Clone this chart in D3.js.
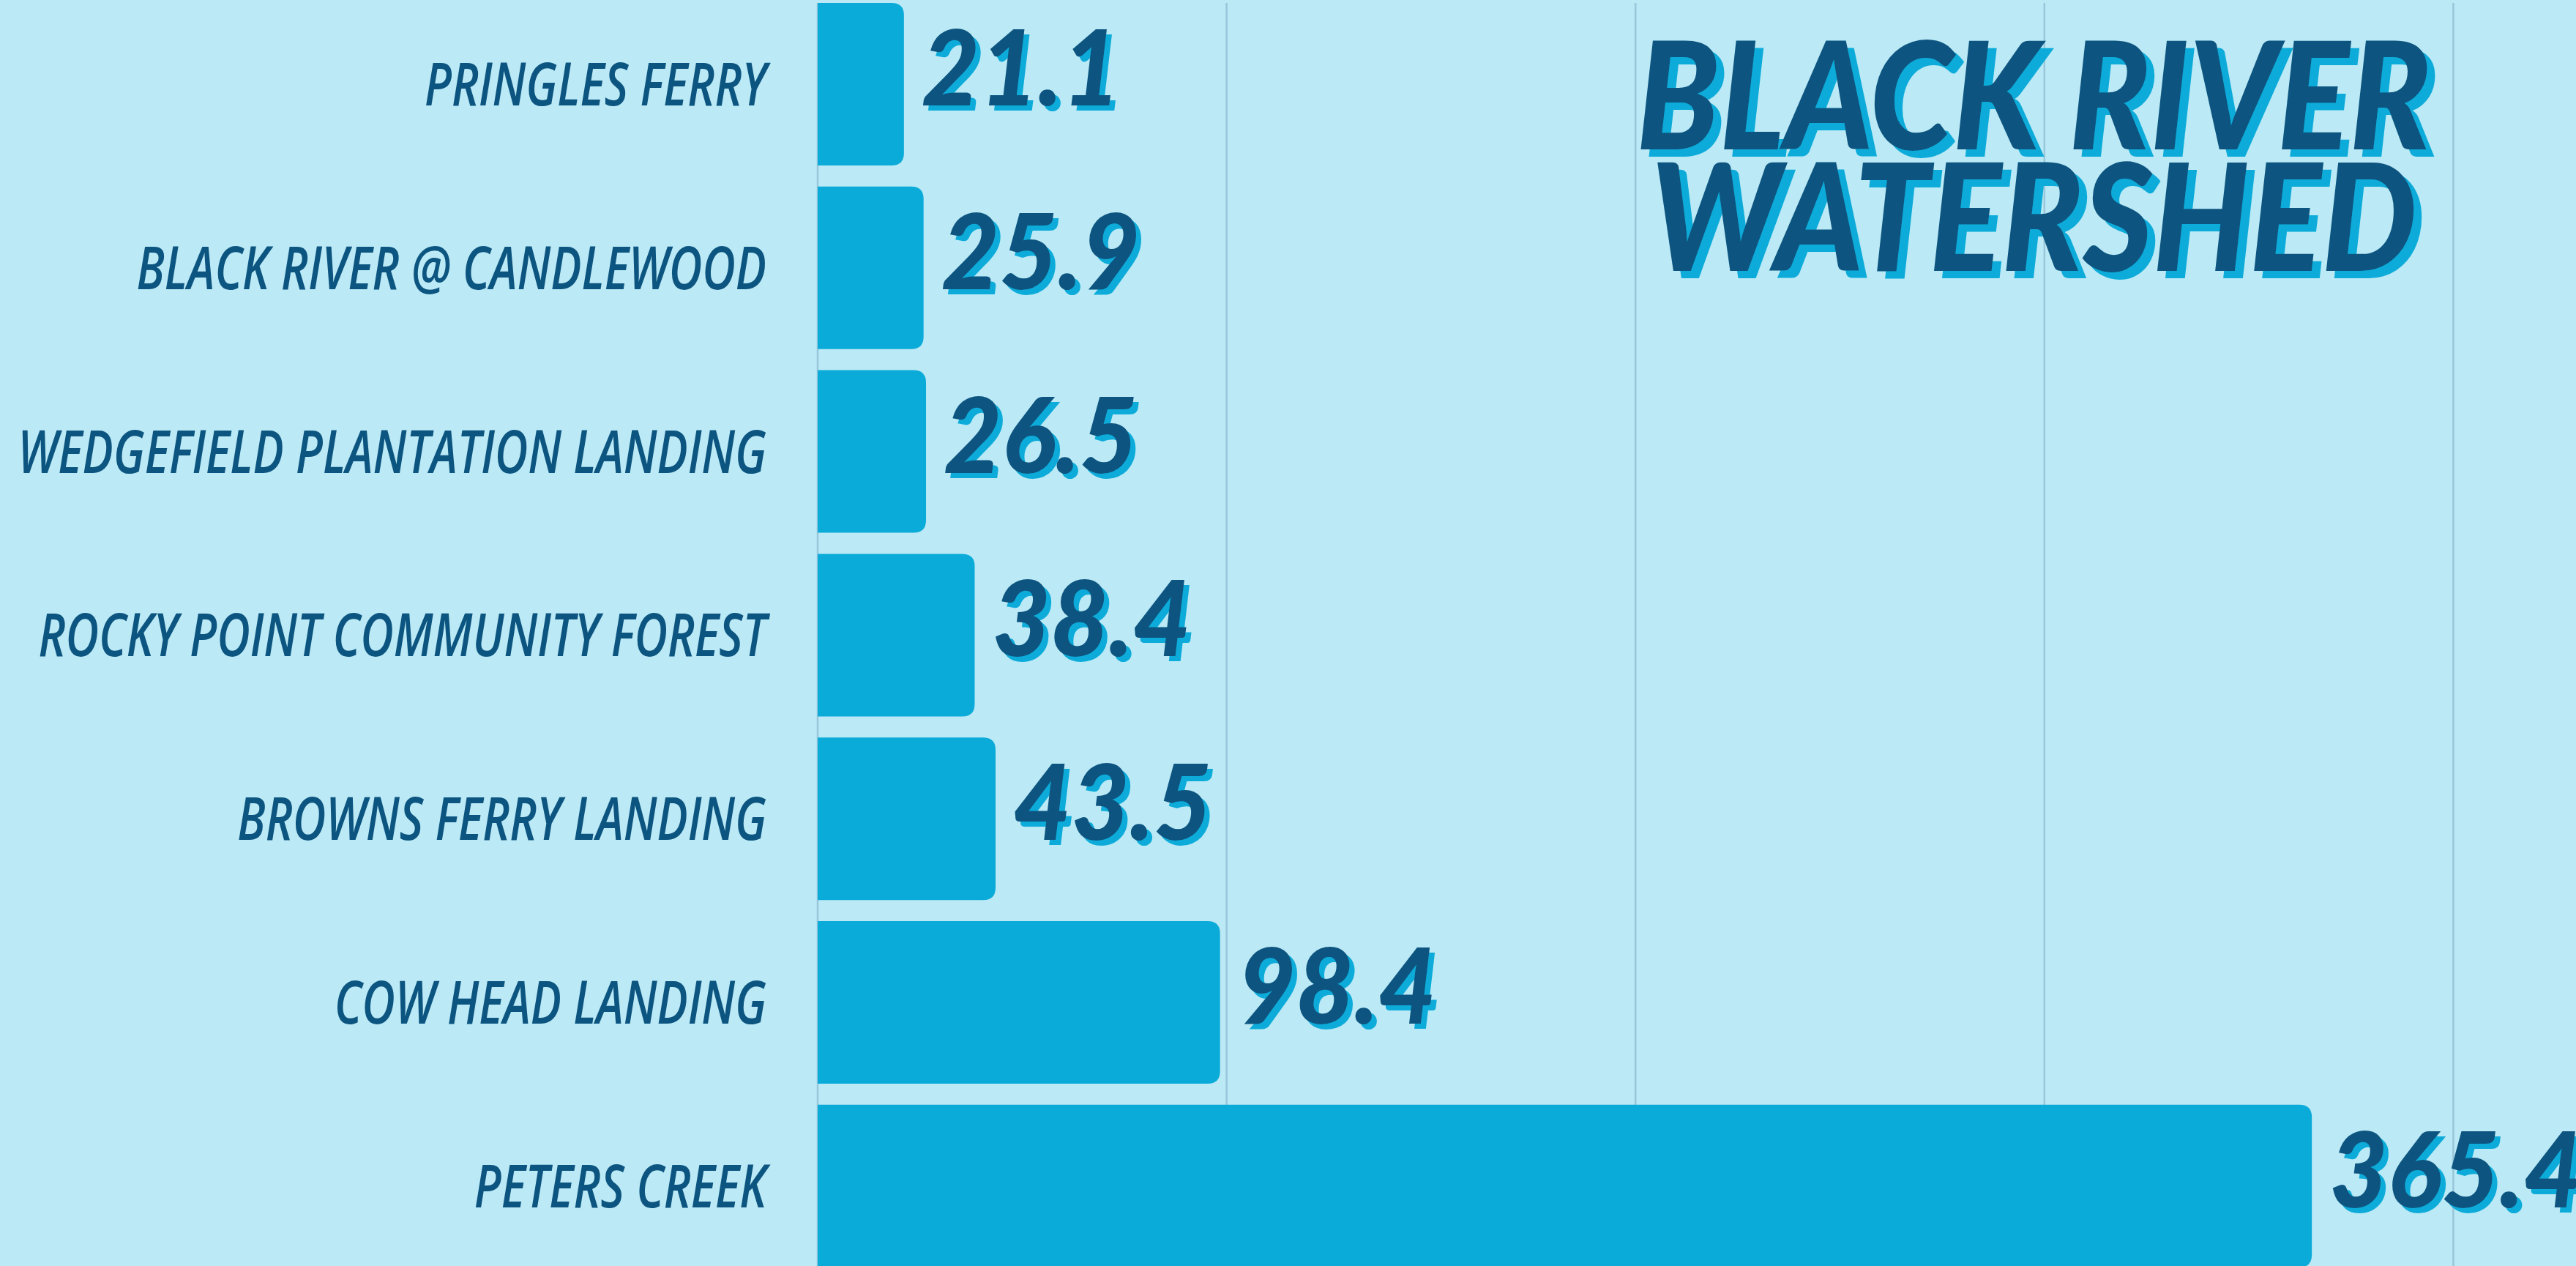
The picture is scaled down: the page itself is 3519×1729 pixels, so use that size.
<!DOCTYPE html>
<html>
<head>
<meta charset="utf-8">
<script src="https://cdn.jsdelivr.net/npm/d3@7"></script>
<style>
  html, body { margin: 0; padding: 0; background: #BBE9F5; overflow: hidden; }
  svg { display: block; }
</style>
</head>
<body>
<svg id="chart" width="3519" height="1729"></svg>
<script>
// Sampling sites in the Black River watershed and their measured values
const sites = [
  "PRINGLES FERRY",
  "BLACK RIVER @ CANDLEWOOD",
  "WEDGEFIELD PLANTATION LANDING",
  "ROCKY POINT COMMUNITY FOREST",
  "BROWNS FERRY LANDING",
  "COW HEAD LANDING",
  "PETERS CREEK"
];
const values = [21.1, 25.9, 26.5, 38.4, 43.5, 98.4, 365.4];
const gridTicks = [0, 100, 200, 300, 400];
const titleLines = ["BLACK RIVER", "WATERSHED"];

const W = 3519, H = 1729;
const colors = {
  bg: "#BBE9F5",
  bar: "#0AABD9",
  ink: "#0C5580",
  shadow: "#0AABD9",
  grid: "#98C6DA"
};

const svg = d3.select("#chart");

// drop-shadow filters: a flat offset copy of the glyphs in the bar colour
const defs = svg.append("defs");
function shadowFilter(id, dx, dy) {
  const f = defs.append("filter").attr("id", id)
    .attr("x", "-10%").attr("y", "-20%").attr("width", "130%").attr("height", "160%");
  f.append("feFlood").attr("flood-color", colors.shadow).attr("result", "c");
  f.append("feComposite").attr("in", "c").attr("in2", "SourceAlpha").attr("operator", "in").attr("result", "s");
  f.append("feOffset").attr("in", "s").attr("dx", dx).attr("dy", dy).attr("result", "o");
  const m = f.append("feMerge");
  m.append("feMergeNode").attr("in", "o");
  m.append("feMergeNode").attr("in", "SourceGraphic");
}
shadowFilter("valueShadow", 7, 7);
shadowFilter("titleShadow", 11, 10);

svg.append("rect").attr("width", W).attr("height", H).attr("fill", colors.bg);

const x = d3.scaleLinear().domain([0, 430]).range([1117, W]);
const y = d3.scaleBand()
  .domain(sites)
  .range([-10.4, 1745.2])
  .paddingInner(0.115)
  .paddingOuter(0.0575);

// vertical gridlines (the 0 line doubles as the baseline)
svg.append("g")
  .selectAll("line")
  .data(gridTicks)
  .join("line")
  .attr("x1", d => x(d)).attr("x2", d => x(d))
  .attr("y1", 4).attr("y2", H)
  .attr("stroke", colors.grid)
  .attr("stroke-width", 2.5);

// bars with rounded right-hand corners
const r = 17;
function barPath(x0, x1, y0, h) {
  const rr = Math.min(r, (x1 - x0));
  return `M${x0},${y0}H${x1 - rr}Q${x1},${y0} ${x1},${y0 + rr}` +
         `V${y0 + h - rr}Q${x1},${y0 + h} ${x1 - rr},${y0 + h}H${x0}Z`;
}
svg.append("g")
  .selectAll("path")
  .data(sites)
  .join("path")
  .attr("d", (s, i) => barPath(x(0), x(values[i]), y(s), y.bandwidth()))
  .attr("fill", colors.bar);

// site names to the left of the axis
const labelScale = 0.765;
svg.append("g")
  .selectAll("text")
  .data(sites)
  .join("text")
  .attr("transform", s => `translate(${x(0) - 70},${y(s) + y.bandwidth() / 2 + 29}) scale(${labelScale},1)`)
  .attr("text-anchor", "end")
  .attr("font-family", "'Open Sans', 'Noto Sans', sans-serif")
  .attr("font-style", "italic")
  .attr("font-weight", 600)
  .attr("font-size", 82)
  .attr("fill", colors.ink)
  .text(s => s);

// value labels past the end of each bar
const valueScale = 0.96;
svg.append("g")
  .attr("font-family", "Lato, 'Open Sans', sans-serif")
  .attr("font-style", "italic")
  .attr("font-weight", 900)
  .attr("font-size", 143)
  .attr("fill", colors.ink)
  .attr("filter", "url(#valueShadow)")
  .selectAll("text")
  .data(sites)
  .join("text")
  .attr("transform", (s, i) => `translate(${x(values[i]) + 24},${y(s) + y.bandwidth() / 2 + 29}) scale(${valueScale},1)`)
  .text((s, i) => d3.format(".1f")(values[i]));

// title block
const titleScale = 0.9;
svg.append("g")
  .attr("font-family", "Lato, 'Open Sans', sans-serif")
  .attr("font-style", "italic")
  .attr("font-weight", 900)
  .attr("font-size", 204)
  .attr("text-anchor", "middle")
  .attr("fill", colors.ink)
  .attr("filter", "url(#titleShadow)")
  .selectAll("text")
  .data(titleLines)
  .join("text")
  .attr("transform", (t, i) => `translate(2778,${204 + i * 166}) scale(${titleScale},1)`)
  .text(t => t);
</script>
</body>
</html>
